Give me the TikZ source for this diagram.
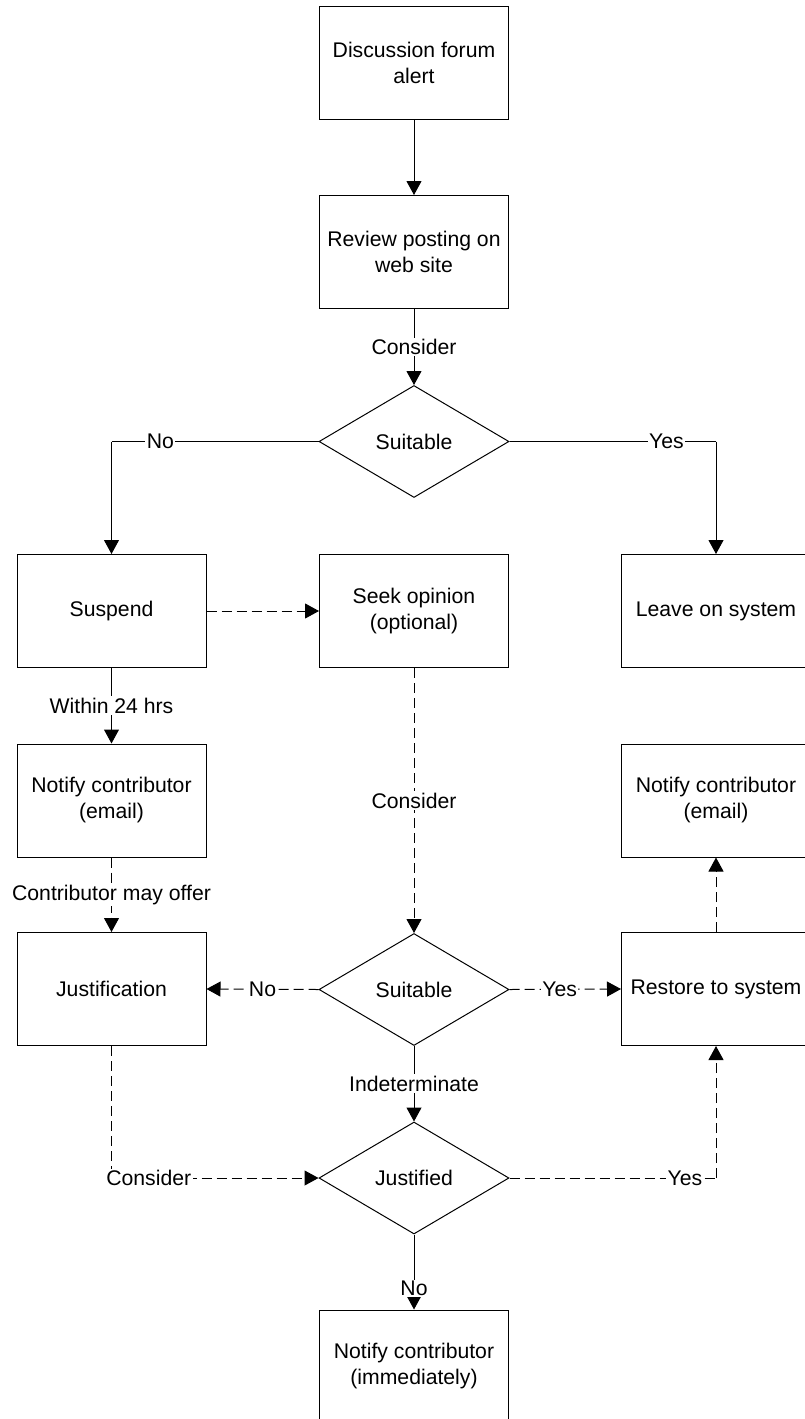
\documentclass[tikz,border=0pt]{standalone}
\usepackage{fontspec}
\setmainfont{Liberation Sans}
\usetikzlibrary{shapes.geometric,arrows.meta}
\begin{document}
\begin{tikzpicture}[x=1pt,y=-1pt,
  every node/.style={font=\fontsize{21.2}{26}\selectfont, align=center},
  stepbox/.style={draw, line width=1pt, minimum width=189pt, minimum height=113pt, inner sep=0pt},
  choice/.style={draw, line width=1pt, shape=diamond, shape aspect=1.7, minimum width=190pt, minimum height=112pt, inner sep=0pt},
  flow/.style={line width=1pt, -{Triangle[length=14pt,width=15pt]}},
  plain/.style={line width=1pt},
  dashline/.style={dash pattern=on 10pt off 5pt},
  lab/.style={fill=white, inner sep=1.5pt}
]
\useasboundingbox (0,0) rectangle (805,1419);

% boxes
\node[stepbox] (alert)   at (414,63)    {Discussion forum\\alert};
\node[stepbox] (review)  at (414,252)   {Review posting on\\web site};
\node[choice]  (suit1)   at (414,441.5) {Suitable};
\node[stepbox] (suspend) at (111.5,611) {Suspend};
\node[stepbox] (seek)    at (414,611)   {Seek opinion\\(optional)};
\node[stepbox] (leave)   at (716,611)   {Leave on system};
\node[stepbox] (notL)    at (111.5,800.5) {Notify contributor\\(email)};
\node[stepbox] (notR)    at (716,800.5) {Notify contributor\\(email)};
\node[stepbox] (just)    at (111.5,989) {Justification};
\node[choice]  (suit2)   at (414,989.5) {Suitable};
\node[stepbox] (restore) at (716,989)   {Restore to system};
\node[choice]  (justd)   at (414,1178)  {Justified};
\node[stepbox] (notI)    at (414,1366.5) {Notify contributor\\(immediately)};

% solid connectors
\draw[flow] (alert.south) -- (review.north);
\draw[flow] (review.south) -- node[lab]{Consider} (suit1.north);
\draw[plain] (suit1.west) -- node[lab, pos=0.764]{No} (suit1.west -| suspend.north)
  coordinate (c1);
\draw[flow] (c1) -- (suspend.north);
\draw[plain] (suit1.east) -- node[lab, pos=0.76]{Yes} (suit1.east -| leave.north)
  coordinate (c2);
\draw[flow] (c2) -- (leave.north);
\draw[flow] (suspend.south) -- node[lab]{Within 24 hrs} (notL.north);
\draw[flow] (suit2.south) -- node[lab]{Indeterminate} (justd.north);
\draw[flow] (justd.south) -- node[lab, pos=0.72]{No} (notI.north);

% dashed connectors
\draw[flow, dashline] (suspend.east) -- (seek.west);
\draw[flow, dashline] (notL.south) -- node[lab]{Contributor may offer} (just.north);
\draw[flow, dashline] (seek.south) -- node[lab]{Consider} (suit2.north);
\draw[flow, dashline] (suit2.west) -- node[lab]{No} (just.east);
\draw[flow, dashline] (suit2.east) -- node[lab, pos=0.45]{Yes} (restore.west);
\draw[flow, dashline] (restore.north) -- (notR.south);
\draw[plain, dashline] (just.south) -- (just.south |- justd.west) coordinate (c3);
\draw[flow, dashline] (c3) -- node[lab, pos=0.18]{Consider} (justd.west);
\draw[plain, dashline] (justd.east) -- node[lab, pos=0.85]{Yes} (justd.east -| restore.south)
  coordinate (c4);
\draw[flow, dashline] (c4) -- (restore.south);
\end{tikzpicture}
\end{document}
